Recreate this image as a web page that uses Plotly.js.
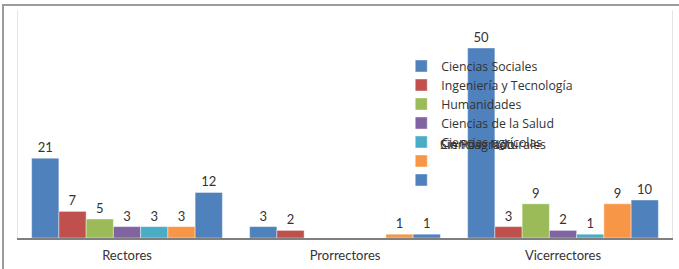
<!DOCTYPE html>
<html>
<head>
<meta charset="utf-8">
<script src="https://cdn.plot.ly/plotly-3.0.1.min.js"></script>
<style>
  body { margin:0; background:#fff; }
  #chart { position:absolute; left:0; top:0; width:679px; height:269px; }
  #frame { position:absolute; left:2px; top:4px; width:677px; height:265px;
           border-left:2px solid #9c9c9c; border-top:2px solid #9c9c9c; pointer-events:none; }
</style>
</head>
<body>
<div id="chart"></div>
<div id="frame"></div>
<script>
const categories = ["Rectores", "Prorrectores", "Vicerrectores"];
const seriesNames = ["Ciencias Sociales", "Ingeniería y Tecnología", "Humanidades", "Ciencias de la Salud", "Ciencias agrícolas", "Sin Posgrado", "Ciencias Naturales"];
const cienciasSociales = [21, 3, 50];
const ingenieriaTecnologia = [7, 2, 3];
const humanidades = [5, null, 9];
const cienciasSalud = [3, null, 2];
const cienciasAgricolas = [3, null, 1];
const sinPosgrado = [3, 1, 9];
const cienciasNaturales = [12, 1, 10];

const seriesValues = [cienciasSociales, ingenieriaTecnologia, humanidades, cienciasSalud, cienciasAgricolas, sinPosgrado, cienciasNaturales];
const colors = ["#4F81BD", "#C0504D", "#9BBB59", "#8064A2", "#4BACC6", "#F79646", "#4F81BD"];
const FONT = "Lato, 'Open Sans', sans-serif";
const LFONT = "'Open Sans', Lato, sans-serif";
const TXT = "#333333";

// the last two legend entries show only swatches; their texts collide on the 5th row
const legendNames = seriesNames.map((n, i) => i < 5 ? n : " ");

const traces = seriesValues.map((vals, i) => ({
  type: "bar",
  x: categories,
  y: vals,
  name: legendNames[i],
  marker: { color: colors[i], line: { color: "rgba(255,255,255,0.7)", width: 0.6 } },
  text: vals.map(v => v === null ? "" : String(v)),
  textposition: "outside",
  cliponaxis: false,
  textfont: { family: FONT, size: 13, color: TXT },
  hoverinfo: "x+y+name"
}));

const layout = {
  width: 679, height: 269,
  margin: { l: 18, r: 7, t: 10, b: 31 },
  paper_bgcolor: "#ffffff",
  plot_bgcolor: "#ffffff",
  barmode: "group",
  bargap: 0.125,
  bargroupgap: 0,
  font: { family: FONT, size: 13, color: TXT },
  showlegend: true,
  legend: {
    x: 0.586, y: 0.818, xanchor: "left", yanchor: "top",
    bgcolor: "rgba(0,0,0,0)",
    font: { family: LFONT, size: 12.3, color: TXT },
    traceorder: "normal",
    itemwidth: 30
  },
  xaxis: {
    type: "category",
    showline: true, linecolor: "#7f7f7f", linewidth: 1.5,
    ticks: "", showgrid: false, zeroline: false,
    ticklabelstandoff: 5,
    tickfont: { family: FONT, size: 13, color: TXT }
  },
  yaxis: {
    range: [0, 60],
    showticklabels: false, ticks: "",
    showgrid: false, zeroline: false,
    showline: true, linecolor: "#e6e6e6", linewidth: 1, mirror: true
  },
  annotations: [
    { text: seriesNames[5], xref: "paper", yref: "paper", x: 0.642, y: 0.41, xanchor: "left", yanchor: "middle",
      showarrow: false, font: { family: LFONT, size: 12.3, color: TXT } },
    { text: seriesNames[6], xref: "paper", yref: "paper", x: 0.642, y: 0.41, xanchor: "left", yanchor: "middle",
      showarrow: false, font: { family: LFONT, size: 12.3, color: TXT } }
  ]
};

Plotly.newPlot("chart", traces, layout, { displayModeBar: false, staticPlot: true });
</script>
</body>
</html>
